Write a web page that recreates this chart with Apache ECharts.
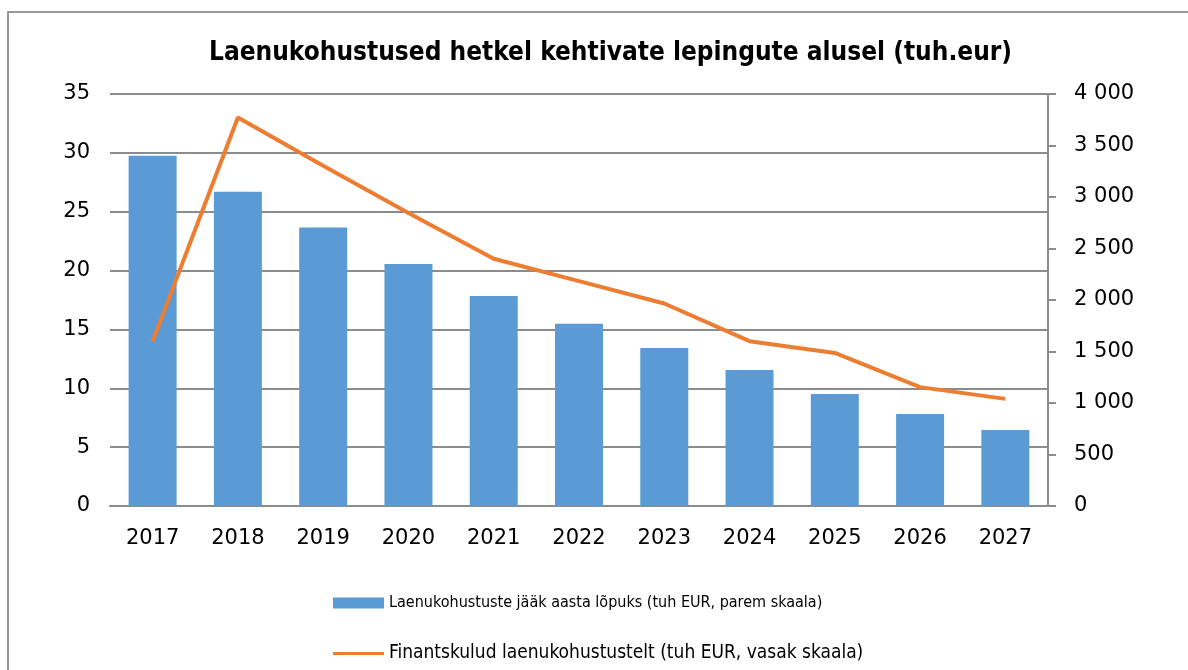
<!DOCTYPE html>
<html>
<head>
<meta charset="utf-8">
<script src="https://cdn.jsdelivr.net/npm/echarts@6/dist/echarts.min.js"></script>
<style>
  html, body { margin: 0; padding: 0; background: #fff; }
  #chart { width: 1188px; height: 670px; }
</style>
</head>
<body>
<div id="chart"></div>
<script>
// aastad
var years = ['2017', '2018', '2019', '2020', '2021', '2022', '2023', '2024', '2025', '2026', '2027'];
// laenukohustuste jääk (tuh EUR) - parem skaala
var loanBalance = [3400, 3050, 2705, 2350, 2040, 1770, 1535, 1320, 1087, 893, 738];
// finantskulud (tuh EUR) - vasak skaala
var financeCosts = [14.0, 33.0, 28.9, 24.9, 21.0, 19.1, 17.2, 14.0, 13.0, 10.1, 9.1];

var barName = 'Laenukohustuste jääk aasta lõpuks (tuh EUR, parem skaala)';
var lineName = 'Finantskulud laenukohustustelt (tuh EUR, vasak skaala)';

var font = 'DejaVu Sans';
var gridGray = '#8c8c8c';

var myChart = echarts.init(document.getElementById('chart'));

var option = {
    backgroundColor: '#fff',
    animation: false,
    graphic: [{
        type: 'rect',
        shape: { x: 8, y: 12, width: 1300, height: 800 },
        style: { fill: 'none', stroke: '#999', lineWidth: 2 },
        silent: true
    }],
    title: {
        text: 'Laenukohustused hetkel kehtivate lepingute alusel (tuh.eur)',
        left: 204,
        top: 35,
        textStyle: { fontFamily: 'DejaVu Sans Condensed, ' + font, fontWeight: 'bold', fontSize: 26, color: '#000' }
    },
    legend: [{
        data: [barName],
        left: 328,
        top: 590,
        itemWidth: 51,
        itemHeight: 11,
        itemGap: 6,
        icon: 'rect',
        textStyle: { fontFamily: 'DejaVu Sans Condensed, ' + font, fontSize: 16, color: '#000' }
    }, {
        data: [lineName],
        left: 328,
        top: 639,
        itemWidth: 51,
        itemHeight: 3,
        itemGap: 6,
        icon: 'rect',
        textStyle: { fontFamily: 'DejaVu Sans Condensed, ' + font, fontSize: 19, color: '#000' }
    }],
    grid: { left: 110, right: 140, top: 94, bottom: 164 },
    xAxis: {
        type: 'category',
        data: years,
        axisLine: { lineStyle: { color: gridGray, width: 2 } },
        axisTick: { show: false },
        axisLabel: { fontFamily: font, fontSize: 21, color: '#000', margin: 22 }
    },
    yAxis: [{
        type: 'value',
        min: 0, max: 35, interval: 5,
        axisLine: { show: false },
        axisTick: { show: false },
        splitLine: { lineStyle: { color: gridGray, width: 2 } },
        axisLabel: { fontFamily: font, fontSize: 21, color: '#000', margin: 20 }
    }, {
        type: 'value',
        position: 'right',
        min: 0, max: 4000, interval: 500,
        axisLine: { show: true, lineStyle: { color: gridGray, width: 2 } },
        axisTick: { show: true, length: 8, lineStyle: { color: gridGray, width: 2 } },
        splitLine: { show: false },
        axisLabel: {
            fontFamily: font, fontSize: 21, color: '#000', margin: 26,
            formatter: function (v) {
                return String(v).replace(/\B(?=(\d{3})+(?!\d))/g, ' ');
            }
        }
    }],
    series: [{
        name: barName,
        type: 'bar',
        yAxisIndex: 1,
        barWidth: 48,
        itemStyle: { color: '#5b9bd5' },
        data: loanBalance
    }, {
        name: lineName,
        type: 'line',
        yAxisIndex: 0,
        symbol: 'none',
        itemStyle: { color: '#ed7d31' },
        lineStyle: { color: '#ed7d31', width: 4 },
        data: financeCosts
    }]
};

myChart.setOption(option);
</script>
</body>
</html>
